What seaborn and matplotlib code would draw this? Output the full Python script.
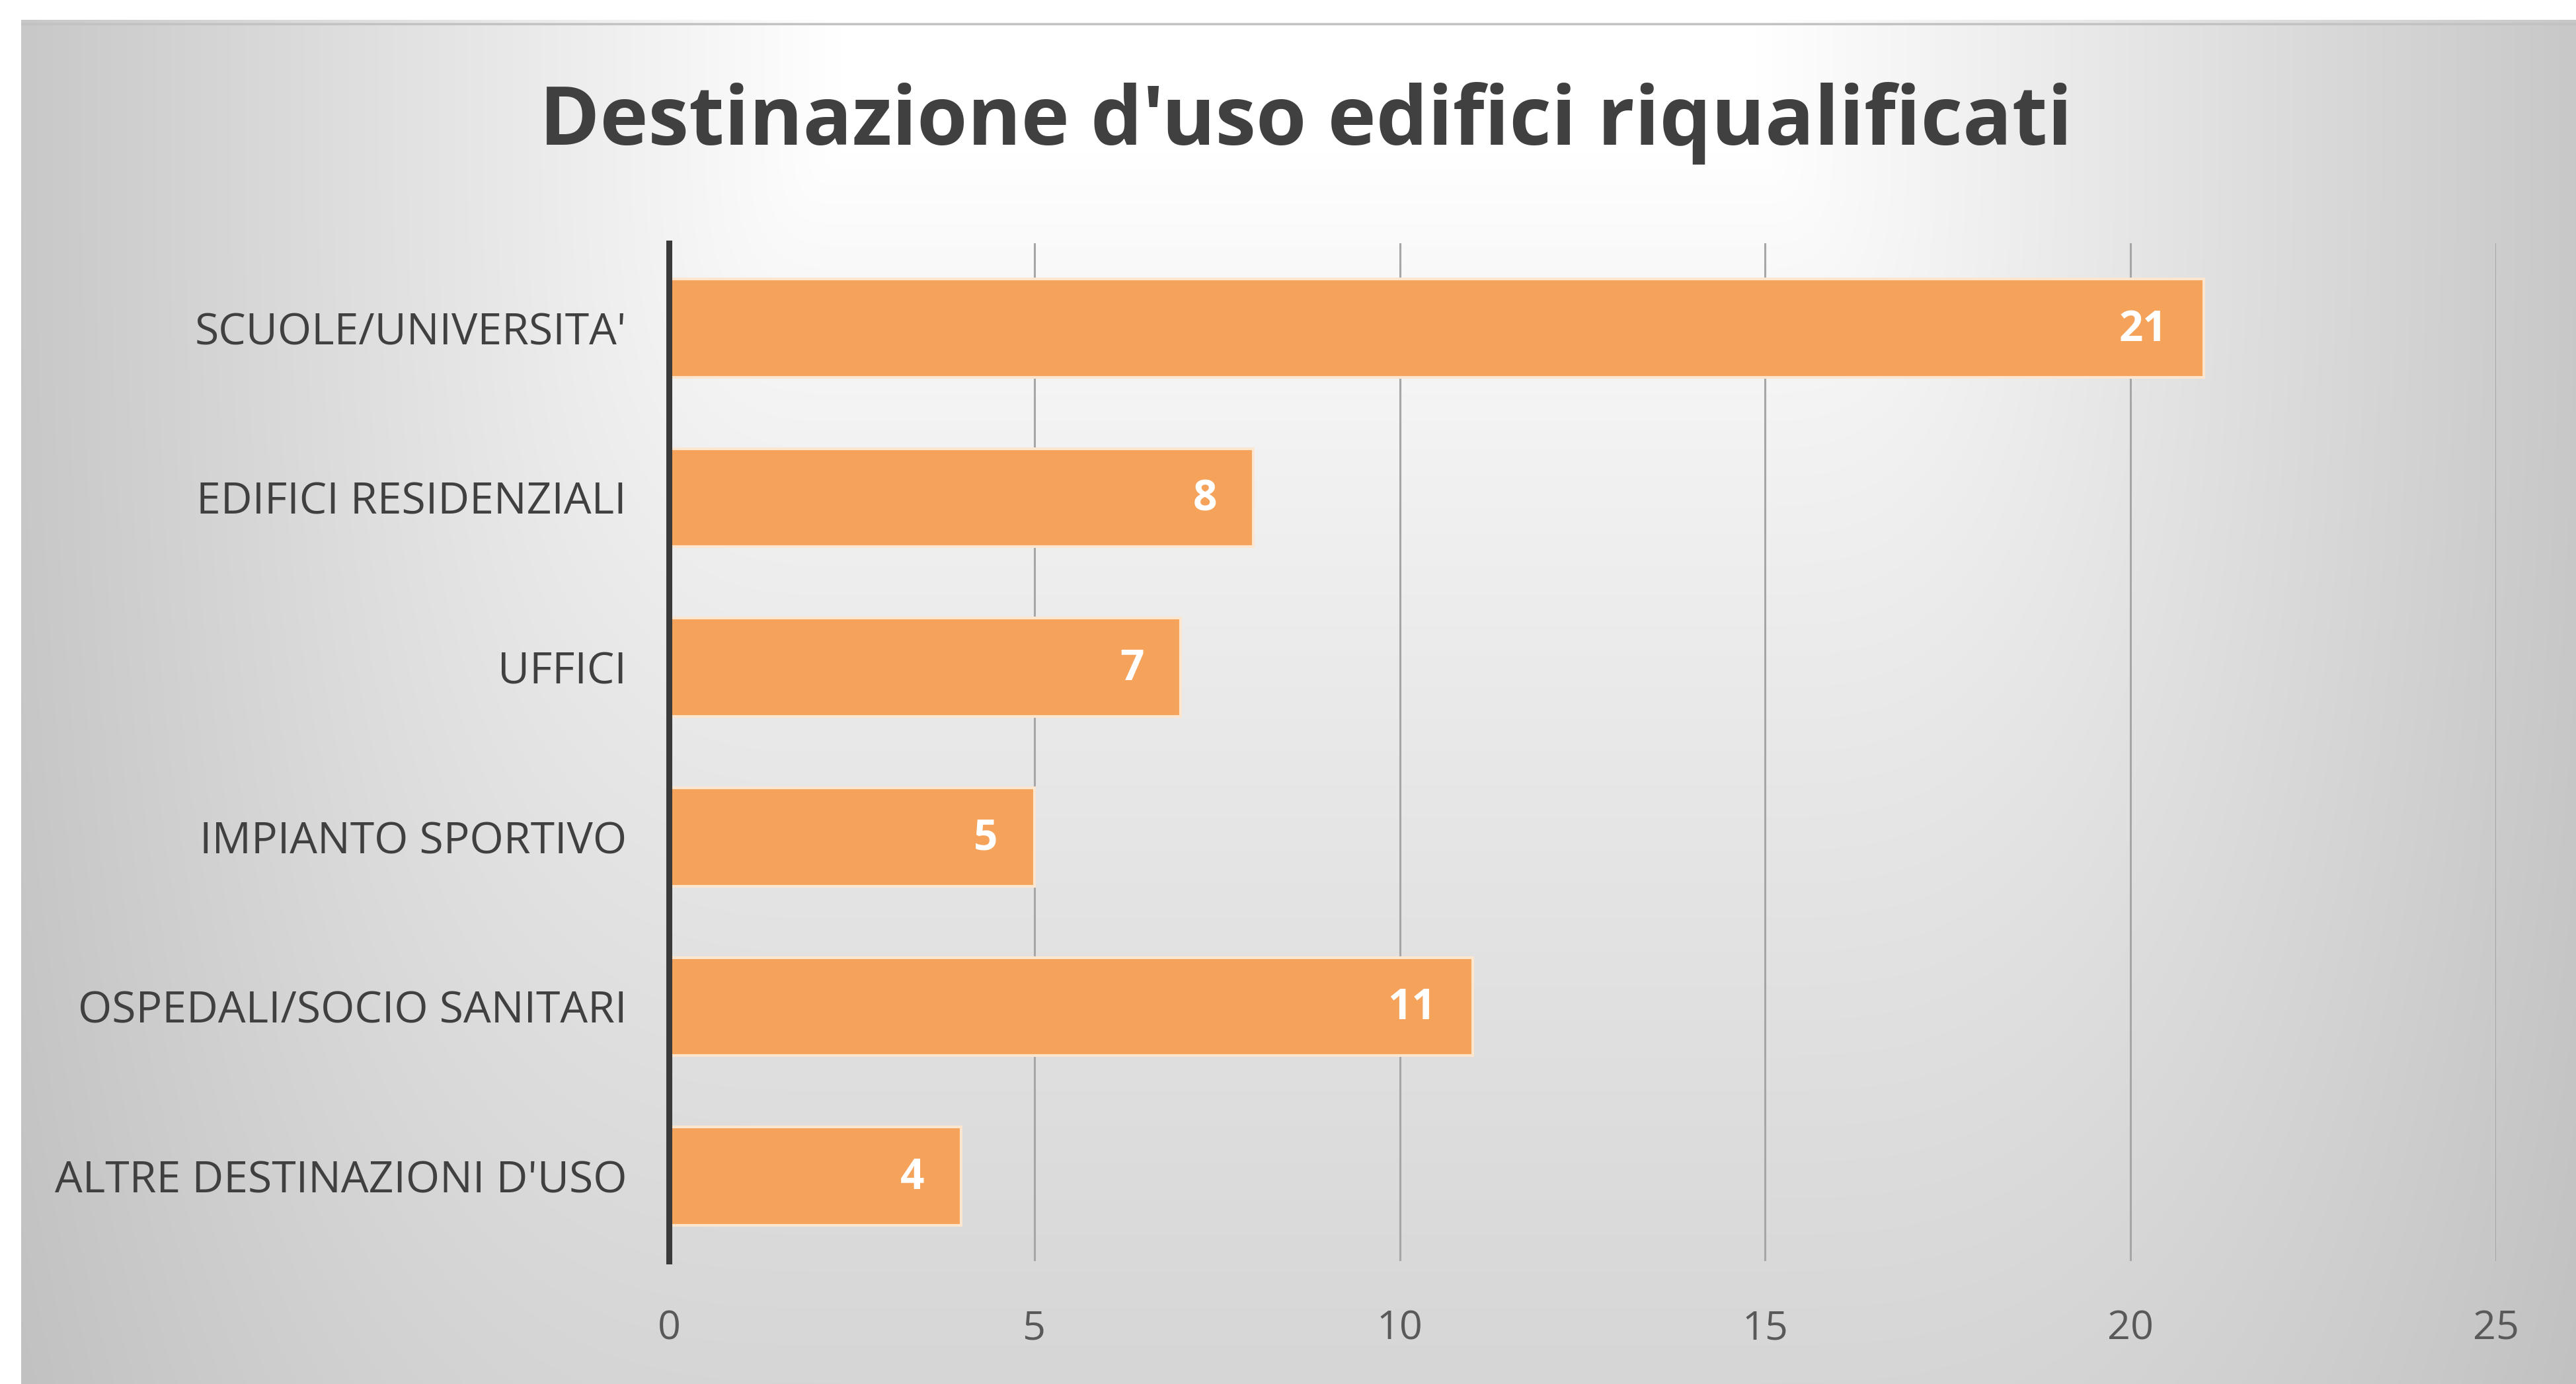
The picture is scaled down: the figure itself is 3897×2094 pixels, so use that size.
import numpy as np
import pandas as pd
import matplotlib
matplotlib.use("Agg")
import matplotlib.pyplot as plt
import seaborn as sns

# Data
categories = [
    "SCUOLE/UNIVERSITA'",
    "EDIFICI RESIDENZIALI",
    "UFFICI",
    "IMPIANTO SPORTIVO",
    "OSPEDALI/SOCIO SANITARI",
    "ALTRE DESTINAZIONI D'USO",
]
values = [21, 8, 7, 5, 11, 4]
x_ticks = [0, 5, 10, 15, 20, 25]
title = "Destinazione d'uso edifici riqualificati"

df = pd.DataFrame({"categoria": categories, "numero": values})

sns.set_theme(style="white")
plt.rcParams["font.family"] = ["Open Sans", "DejaVu Sans"]

W, H, DPI = 3897, 2094, 100
fig = plt.figure(figsize=(W / DPI, H / DPI), dpi=DPI, facecolor="white")

# Background gradient: white at the top centre, greying towards sides and bottom
bg = fig.add_axes([32 / W, 0, 1 - 32 / W, 1 - 30 / H])
gx, gy = np.meshgrid(np.linspace(0, 1, 800), np.linspace(0, 1, 430))
u = np.abs(gx - 0.5) / 0.5
side = 55 * np.clip((u - 0.36) / 0.64, 0, 1)
down = 41 * np.clip((gy - 0.1) / 0.9, 0, 1) ** 0.8
dark = (side ** 3 + down ** 3) ** (1 / 3)
shade = (255 - dark) / 255.0
bg.imshow(np.dstack([shade] * 3), aspect="auto", extent=(0, 1, 1, 0), interpolation="bilinear")
bg.axhline(0.003, color="#c2c2c2", lw=2.5)
bg.set_xlim(0, 1)
bg.set_ylim(1, 0)
bg.set_axis_off()

ax = fig.add_axes([1012 / W, 1 - 1908 / H, 2764 / W, 1540 / H])
ax.patch.set_alpha(0)

sns.barplot(
    data=df, x="numero", y="categoria", orient="h",
    color="#F5A35B", saturation=1, width=0.58,
    edgecolor="#FDE6CF", linewidth=3, ax=ax,
)

ax.set_xlim(0, 25)
ax.set_ylim(5.5, -0.5)
ax.set_xticks(x_ticks)
ax.set_xticklabels([str(t) for t in x_ticks])
ax.set_xlabel("")
ax.set_ylabel("")

ax.grid(axis="x", color="#a6a6a6", lw=2.2)
ax.grid(axis="y", visible=False)
ax.set_axisbelow(True)
for s in ["top", "right", "bottom"]:
    ax.spines[s].set_visible(False)
ax.spines["left"].set_color("#3a3a3a")
ax.spines["left"].set_linewidth(6.5)
ax.spines["left"].set_zorder(5)

ax.tick_params(axis="both", length=0)
ax.tick_params(axis="x", pad=52, labelsize=44, labelcolor="#595959")
ax.tick_params(axis="y", pad=46, labelsize=47.5, labelcolor="#404040")

# Value labels inside the bar ends
for i, v in enumerate(values):
    ax.annotate(
        str(v), xy=(v, i), xytext=(-40, -2), textcoords="offset points",
        ha="right", va="center", fontsize=46, fontweight="bold", color="white",
    )

fig.text(0.507, 0.911, title, ha="center", va="center", fontsize=89,
         fontweight="bold", color="#404040")

fig.savefig("out.png", dpi=DPI, facecolor="white")
